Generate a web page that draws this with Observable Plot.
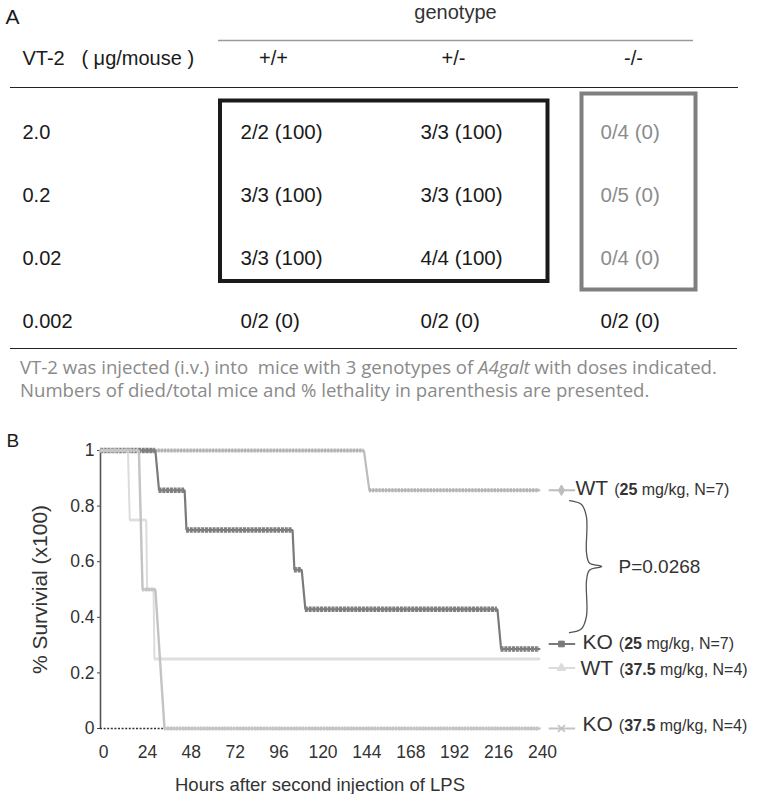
<!DOCTYPE html>
<html><head><meta charset="utf-8">
<script src="https://cdn.jsdelivr.net/npm/d3@7"></script>
<script src="https://cdn.jsdelivr.net/npm/@observablehq/plot@0.6"></script>
<style>
body{margin:0;background:#fff;}
#wrap{width:760px;}
#caption{height:68px;box-sizing:border-box;padding:3px 0 0 20px;font-family:"Open Sans",sans-serif;font-size:18.6px;line-height:23px;color:#8a8a8a;white-space:nowrap;}
svg{display:block;overflow:visible}
</style></head><body>
<div id="wrap"><div id="a"></div>
<div id="caption">VT-2 was injected (i.v.) into&nbsp; mice with 3 genotypes of <i>A4galt</i> with doses indicated.<br>Numbers of died/total mice and % lethality in parenthesis are presented.</div>
<div id="b"></div></div>
<script>
// ---------- Panel A data ----------
const doses = ["2.0", "0.2", "0.02", "0.002"];
const genotypes = ["+/+", "+/-", "-/-"];
const died = [[2, 3, 0], [3, 3, 0], [3, 4, 0], [0, 0, 0]];
const totalMice = [[2, 3, 4], [3, 3, 5], [3, 4, 4], [2, 2, 2]];
const lethality = [[100, 100, 0], [100, 100, 0], [100, 100, 0], [0, 0, 0]];
const lethalGenotypes = ["+/+", "+/-"];
const resistantGenotypes = ["-/-"];
const boxedDoses = ["2.0", "0.02"];

// ---------- Panel B data ----------
const seriesKeys = ["WT25", "KO25", "WT37", "KO37"];
const genotypeLabels = ["WT", "KO", "WT", "KO"];
const doseLabels = ["25", "25", "37.5", "37.5"];
const groupN = [7, 7, 4, 4];
const wt25Hours = [0, 144, 147, 240];
const wt25Surv  = [1, 1, 0.857, 0.857];
const ko25Hours = [0, 30, 32, 46, 47, 105, 106, 110, 112, 217, 219, 240];
const ko25Surv  = [1, 1, 0.857, 0.857, 0.714, 0.714, 0.571, 0.571, 0.429, 0.429, 0.286, 0.286];
const wt37Hours = [0, 15, 16, 25, 25.5, 29, 29.5, 240];
const wt37Surv  = [1, 1, 0.75, 0.75, 0.5, 0.5, 0.25, 0.25];
const ko37Hours = [0, 21, 23, 30, 35, 240];
const ko37Surv  = [1, 1, 0.5, 0.5, 0, 0];
const xTickValues = [0, 24, 48, 72, 96, 120, 144, 168, 192, 216, 240];
const yTickValues = [0, 0.2, 0.4, 0.6, 0.8, 1];
const yTickLabels = ["0", "0.2", "0.4", "0.6", "0.8", "1"];
const pValueText = "P=0.0268";

const FONT = "Liberation Sans, Arial, Helvetica, sans-serif";

// ---------- Panel A ----------
const cells = [];
doses.forEach((d, i) => genotypes.forEach((g, j) => {
  cells.push({dose: d, genotype: g, i, j,
    label: `${died[i][j]}/${totalMice[i][j]} (${lethality[i][j]})`,
    dim: g === "-/-" && i < 3});
}));
const boxLethal = [{x1: lethalGenotypes[0], x2: lethalGenotypes[lethalGenotypes.length-1], y1: boxedDoses[0], y2: boxedDoses[1]}];
const boxResist = [{x1: resistantGenotypes[0], x2: resistantGenotypes[0], y1: boxedDoses[0], y2: boxedDoses[1]}];

const plotA = Plot.plot({
  width: 760, height: 352, margin: 0,
  x: {type: "point", domain: genotypes, range: [240, 600], padding: 0, align: 0.5, axis: null},
  y: {type: "point", domain: doses, range: [132, 321], padding: 0, align: 0.5, axis: null},
  style: {fontFamily: FONT, background: "white", color: "#1a1a1a"},
  marks: [
    Plot.text(["A"], {frameAnchor: "top-left", dx: 5, dy: 17, lineAnchor: "middle", fontSize: 21, fill: "#1a1a1a"}),
    Plot.text([{g: "+/-", t: "genotype"}], {x: "g", text: "t", frameAnchor: "top", dy: 12, dx: 35, lineAnchor: "middle", textAnchor: "middle", fontSize: 20, fill: "#333"}),
    Plot.ruleY([doses[0]], {y: d => d, x1: () => genotypes[0], x2: () => genotypes[2], insetLeft: -22, insetRight: -93, dy: -92, stroke: "#9a9a9a", strokeWidth: 1.6}),
    Plot.text(["VT-2\u00a0\u00a0\u00a0(\u00a0\u03bcg/mouse\u00a0)"], {frameAnchor: "top-left", dx: 22, dy: 58, lineAnchor: "middle", fontSize: 20, fill: "#1a1a1a"}),
    Plot.text(genotypes, {x: d => d, frameAnchor: "top", dy: 58, dx: 33, lineAnchor: "middle", textAnchor: "middle", fontSize: 20, fill: "#1a1a1a"}),
    Plot.ruleY([doses[0]], {y: d => d, insetLeft: 10, insetRight: 22, dy: -45, stroke: "#222", strokeWidth: 1.2}),
    Plot.text(doses, {y: d => d, frameAnchor: "left", dx: 22, lineAnchor: "middle", fontSize: 20, fill: "#1a1a1a"}),
    Plot.text(cells.filter(c => !c.dim), {x: "genotype", y: "dose", text: "label", textAnchor: "start", lineAnchor: "middle", fontSize: 20.5, fill: "#1a1a1a"}),
    Plot.text(cells.filter(c => c.dim), {x: "genotype", y: "dose", text: "label", textAnchor: "start", lineAnchor: "middle", fontSize: 20.5, fill: "#8c8c8c"}),
    Plot.rect(boxLethal, {x1: "x1", x2: "x2", y1: "y1", y2: "y2", insetLeft: -20, insetRight: -127.5, insetTop: -31.5, insetBottom: -23, fill: "none", stroke: "#1a1a1a", strokeWidth: 4}),
    Plot.rect(boxResist, {x1: "x1", x2: "x2", y1: "y1", y2: "y2", insetLeft: -18.5, insetRight: -95.5, insetTop: -38.5, insetBottom: -31.5, fill: "none", stroke: "#7f7f7f", strokeWidth: 4}),
    Plot.ruleY([doses[3]], {y: d => d, insetLeft: 10, insetRight: 23, dy: 27, stroke: "#222", strokeWidth: 1.2})
  ]
});
document.getElementById("a").appendChild(plotA);

// ---------- Panel B ----------
const hoursList = [wt25Hours, ko25Hours, wt37Hours, ko37Hours];
const survList = [wt25Surv, ko25Surv, wt37Surv, ko37Surv];
const series = seriesKeys.map((k, i) => {
  const pts = hoursList[i].map((h, j) => ({h, s: survList[i][j]}));
  const segs = [];
  for (let j = 0; j < pts.length - 1; j++) if (pts[j].s === pts[j+1].s) segs.push({x1: pts[j].h, x2: pts[j+1].h, s: pts[j].s});
  return {key: k, i, pts, segs, last: pts[pts.length-1]};
});
const styles = {
  WT25: {base: "#bdbdbd", bw: 2.2, seg: "#b3b3b3", sw: 4.2, dash: "2.2,1", sym: "diamond", legDy: 0, txtDx: 36, txtDy: 0},
  KO25: {base: "#7a7a7a", bw: 2.2, seg: "#7f7f7f", sw: 5.5, dash: "3,0.8", sym: "square", legDy: -5, txtDx: 43, txtDy: -5},
  WT37: {base: "#dcdcdc", bw: 2, seg: "#dedede", sw: 2.8, dash: null, sym: "triangle", legDy: 9, txtDx: 41, txtDy: 11},
  KO37: {base: "#c3c3c3", bw: 2.4, seg: "#c6c6c6", sw: 4, dash: "2,1", sym: "times", legDy: 0, txtDx: 43, txtDy: -3}
};

const lineMarks = [];
series.forEach(sr => {
  const st = styles[sr.key];
  lineMarks.push(Plot.line(sr.pts, {x: "h", y: "s", stroke: st.base, strokeWidth: st.bw, strokeLinejoin: "miter"}));
  lineMarks.push(Plot.ruleY(sr.segs, {y: "s", x1: "x1", x2: "x2", stroke: st.seg, strokeWidth: st.sw, strokeDasharray: st.dash || undefined}));
});

const legendMarks = [];
series.forEach(sr => {
  const st = styles[sr.key];
  const row = [{y: sr.last.s, t: `${genotypeLabels[sr.i]} (${doseLabels[sr.i]} mg/kg, N=${groupN[sr.i]})`}];
  legendMarks.push(Plot.link(row, {x1: () => 245, x2: () => 259.5, y1: "y", y2: "y", dy: st.legDy, stroke: st.base, strokeWidth: 2}));
  legendMarks.push(Plot.dot(row, {x: () => 252, y: "y", dy: st.legDy, symbol: st.sym, r: 3.2, fill: st.sym === "times" ? "none" : st.base, stroke: st.base, strokeWidth: st.sym === "times" ? 1.6 : 1}));
  legendMarks.push(Plot.text(row, {x: () => 240, y: "y", text: "t", dx: st.txtDx, dy: st.txtDy, textAnchor: "start", lineAnchor: "middle", fontSize: 16, fill: "#333"}));
});

// brace between WT25 and KO25 end values
const yTop = series[0].last.s - 0.037, yBot = series[1].last.s + 0.059, yMid = (yTop + yBot) / 2;
const xe = 256.4, xv = 265.7, xt = 274;
const brace = [
  [xe, yTop], [263, yTop - 0.014], [xv, yTop - 0.06], [xv, yMid + 0.05], [xv + 1.6, yMid + 0.013], [xt, yMid],
  [xv + 1.6, yMid - 0.013], [xv, yMid - 0.05], [xv, yBot + 0.06], [263, yBot + 0.014], [xe, yBot]
];

const plotB = Plot.plot({
  width: 760, height: 374, marginLeft: 100, marginRight: 221, marginTop: 30, marginBottom: 66,
  x: {domain: [0, 240]},
  y: {domain: [0, 1]},
  style: {fontFamily: FONT, background: "white", color: "#333", overflow: "visible"},
  marks: [
    Plot.text(["B"], {frameAnchor: "top-left", dx: -94, dy: -10, lineAnchor: "middle", fontSize: 19, fill: "#1a1a1a"}),
    Plot.axisY(yTickValues, {tickSize: 3, tickPadding: 3, fontSize: 17.5, label: null, tickFormat: (d, i) => yTickLabels[i], stroke: "#444", fill: "#333"}),
    Plot.axisX(xTickValues, {tickSize: 0, tickPadding: 17, fontSize: 17.5, dx: 3, label: null, fill: "#333"}),
    Plot.ruleX([0], {stroke: "#555", strokeWidth: 1.6}),
    Plot.ruleY([0], {stroke: "#333", strokeWidth: 1.6, strokeDasharray: "2,1.6"}),
    ...lineMarks,
    ...legendMarks,
    Plot.line(brace, {x: d => d[0], y: d => d[1], curve: "catmull-rom", stroke: "#555", strokeWidth: 1.3}),
    Plot.text([pValueText], {x: () => 240, y: () => yMid, dx: 79, textAnchor: "start", lineAnchor: "middle", fontSize: 19, fill: "#333"}),
    Plot.text(["% Survivial (x100)"], {frameAnchor: "left", dx: -60, rotate: -90, textAnchor: "middle", lineAnchor: "middle", fontSize: 21, fill: "#333"}),
    Plot.text(["Hours after second injection of LPS"], {frameAnchor: "bottom", dy: 57, textAnchor: "middle", lineAnchor: "middle", fontSize: 18.5, fill: "#333"})
  ]
});
document.getElementById("b").appendChild(plotB);

// rich formatting of legend entries
d3.select(plotB).selectAll("text").each(function() {
  const t = this.textContent;
  const m = t.match(/^(WT|KO) \(([\d.]+) (mg\/kg, N=\d+\))$/);
  if (!m) return;
  const sel = d3.select(this);
  sel.text(null).style("white-space", "pre");
  sel.append("tspan").attr("font-size", 21).text(m[1]);
  sel.append("tspan").attr("font-size", 16).attr("dx", 6).text("(");
  sel.append("tspan").attr("font-size", 16).attr("font-weight", "bold").text(m[2]);
  sel.append("tspan").attr("font-size", 16).text(" " + m[3]);
});
</script>
</body></html>
